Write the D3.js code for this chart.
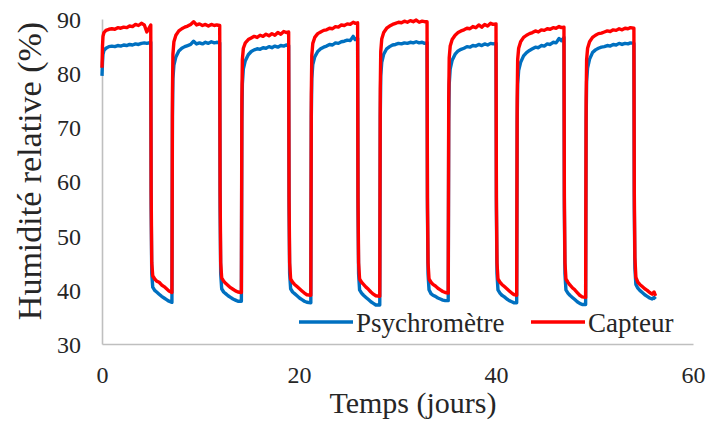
<!DOCTYPE html>
<html><head><meta charset="utf-8">
<script src="https://cdn.jsdelivr.net/npm/d3@7"></script>
<style>body{margin:0;background:#fff}svg{display:block}
text,.tick text{font-family:"Liberation Serif","Times New Roman",serif !important;fill:#262626}</style>
</head><body><svg id="c" width="708" height="423"></svg>
<script>
// Temps (jours)
const jours = [
 0,0.05,0.1,0.2,0.4,0.7,1.0,1.3,1.6,1.9,2.2,2.5,2.8,3.1,3.4,3.7,4.0,4.3,4.55,4.95,
 4.99,5.05,5.15,5.35,5.55,5.8,6.05,6.3,6.55,6.8,
 7.1,7.15,7.2,7.3,7.5,7.8,8.1,8.4,8.7,9.0,9.3,9.6,9.9,10.2,10.5,10.8,11.1,11.4,11.65,11.95,
 11.99,12.05,12.15,12.35,12.55,12.8,13.05,13.3,13.55,13.8,
 14.15,14.2,14.25,14.35,14.55,14.85,15.15,15.45,15.75,16.05,16.35,16.65,16.95,17.25,17.55,17.85,18.15,18.45,18.7,18.95,
 18.99,19.05,19.15,19.35,19.55,19.8,20.05,20.3,20.55,20.8,
 21.2,21.25,21.3,21.4,21.6,21.9,22.2,22.5,22.8,23.1,23.4,23.7,24.0,24.3,24.6,24.9,25.2,25.5,25.7,25.95,
 25.99,26.05,26.15,26.35,26.55,26.8,27.05,27.3,27.55,27.8,
 28.2,28.25,28.3,28.4,28.6,28.9,29.2,29.5,29.8,30.1,30.4,30.7,31.0,31.3,31.6,31.9,32.2,32.5,32.75,33.0,
 33.04,33.1,33.2,33.4,33.6,33.85,34.1,34.35,34.6,34.85,
 35.15,35.2,35.25,35.35,35.55,35.85,36.15,36.45,36.75,37.05,37.35,37.65,37.95,38.25,38.55,38.85,39.15,39.45,39.7,40.0,
 40.04,40.1,40.2,40.4,40.6,40.85,41.1,41.35,41.6,41.85,
 42.1,42.15,42.2,42.3,42.5,42.8,43.1,43.4,43.7,44.0,44.3,44.6,44.9,45.2,45.5,45.8,46.1,46.4,46.65,46.9,
 46.94,47.0,47.1,47.3,47.5,47.75,48.0,48.25,48.5,48.75,
 49.1,49.15,49.2,49.3,49.5,49.8,50.1,50.4,50.7,51.0,51.3,51.6,51.9,52.2,52.5,52.8,53.1,53.4,53.65,54.0,
 54.04,54.1,54.2,54.4,54.6,54.85,55.1,55.35,55.6,55.85,56.05,56.2
];
// Humidité relative (%) - Psychromètre
const psychrometre = [
 79.5,82.0,83.5,84.2,84.6,84.9,85.0,84.9,85.1,85.0,85.2,85.1,85.3,85.2,85.4,85.3,85.5,85.6,85.5,85.7,
 55,43,40.5,39.9,39.6,39.2,38.8,38.5,38.2,37.9,
 37.7,72,79,81.5,83.0,84.1,84.6,84.9,85.1,85.3,85.9,85.4,85.6,85.4,85.7,85.5,85.8,85.6,85.7,85.6,
 55,43,40.2,39.6,39.3,38.9,38.6,38.3,38.1,37.9,
 37.9,71,78,80.8,82.3,83.4,84.0,84.3,84.5,84.4,84.7,84.6,84.9,84.7,85.0,84.8,85.1,85.0,85.2,85.1,
 55,43,40.2,39.6,39.3,38.9,38.5,38.2,37.9,37.7,
 37.6,72,79,81.6,83.0,84.0,84.5,84.8,85.0,85.3,85.2,85.6,85.5,85.8,85.9,86.1,86.0,86.8,86.2,86.4,
 55,43,40.0,39.4,39.0,38.6,38.2,37.8,37.5,37.2,
 37.2,72,79.5,82.0,83.5,84.5,84.9,85.2,85.3,85.5,85.4,85.6,85.5,85.7,85.6,85.8,85.6,85.7,85.5,85.6,
 55,43,40.0,39.3,39.0,38.8,38.5,38.3,38.1,38.0,
 38.0,71,78,80.8,82.4,83.5,84.1,84.4,84.6,84.9,84.8,85.1,85.0,85.3,85.1,85.4,85.2,85.5,85.4,85.5,
 55,43,40.0,39.4,39.0,38.7,38.3,38.0,37.8,37.6,
 37.6,71,78,80.5,82.0,83.2,83.8,84.2,84.5,84.8,84.7,85.1,85.0,85.4,85.3,85.7,85.6,86.4,86.0,86.6,
 55,43,40.0,39.4,39.0,38.6,38.2,37.8,37.5,37.3,
 37.3,71,78.5,81.0,82.6,83.8,84.3,84.6,84.8,84.9,85.1,85.0,85.3,85.2,85.5,85.3,85.5,85.4,85.6,85.5,
 55,44,41.0,40.3,39.9,39.5,39.1,38.8,38.5,38.3,38.6,38.3
];
// Humidité relative (%) - Capteur
const capteur = [
 81.0,85.0,86.8,87.5,87.9,88.1,88.2,88.1,88.4,88.3,88.5,88.4,88.7,88.6,89.0,88.8,89.2,88.9,87.6,88.9,
 58,45,42.6,42.0,41.6,41.4,40.9,40.6,40.2,39.8,
 39.5,76,83.5,85.8,87.0,87.8,88.2,88.5,88.7,89.0,89.5,88.9,89.1,88.8,89.0,88.7,89.0,88.8,88.9,88.8,
 58,45,42.2,41.6,41.2,40.8,40.4,40.1,39.8,39.6,
 39.5,75,82.5,84.6,85.6,86.2,86.5,86.8,86.6,87.0,86.8,87.2,86.9,87.3,87.0,87.5,87.2,87.7,87.5,87.6,
 57,45,42.0,41.4,41.0,40.6,40.2,39.8,39.4,39.1,
 39.0,76,83.3,85.5,86.6,87.3,87.6,87.9,88.0,88.3,88.2,88.6,88.5,88.9,88.8,89.1,89.0,89.4,89.2,89.3,
 57,45,42.0,41.4,41.0,40.5,40.1,39.6,39.2,38.9,
 38.8,77,84.0,86.3,87.5,88.3,88.7,89.0,89.2,89.4,89.3,89.6,89.4,89.7,89.5,89.8,89.4,89.6,89.5,89.5,
 57,45,42.0,41.4,41.0,40.7,40.3,40.0,39.7,39.5,
 39.4,75,82.8,85.0,86.2,87.0,87.5,87.8,88.0,88.3,88.2,88.6,88.4,88.9,88.5,89.0,88.7,89.2,89.0,89.1,
 57,45,42.0,41.4,41.0,40.6,40.2,39.8,39.4,39.1,
 39.0,75,82.5,84.6,85.8,86.6,87.0,87.3,87.5,87.8,87.6,88.0,87.9,88.2,88.1,88.4,88.3,88.6,88.4,88.5,
 57,45,42.0,41.4,40.9,40.4,40.0,39.5,39.0,38.7,
 38.6,75,82.5,84.6,85.8,86.6,87.0,87.3,87.4,87.6,87.8,87.7,88.0,87.9,88.2,88.0,88.3,88.2,88.4,88.3,
 58,46,42.3,41.4,41.0,40.6,40.2,39.9,39.5,39.2,39.6,38.9
];
const xTicks = [0, 20, 40, 60];
const yTicks = [30, 40, 50, 60, 70, 80, 90];
const seriesNames = ["Psychromètre", "Capteur"];
const seriesColors = ["#0070C0", "#FF0000"];
const xTitle = "Temps (jours)";
const yTitle = "Humidité relative (%)";

const SERIF = '"Liberation Serif", "Times New Roman", serif';
const svg = d3.select("#c");
const x = d3.scaleLinear().domain([0, 60]).range([102, 693]);
const y = d3.scaleLinear().domain([30, 90]).range([344, 19]);

// axes
const xAxis = svg.append("g").attr("transform", `translate(0,${y(30)})`)
  .call(d3.axisBottom(x).tickValues(xTicks).tickSize(0).tickPadding(22).tickFormat(d3.format("d")));
const yAxis = svg.append("g").attr("transform", `translate(${x(0)},0)`)
  .call(d3.axisLeft(y).tickValues(yTicks).tickSize(0).tickPadding(21).tickFormat(d3.format("d")));
[xAxis, yAxis].forEach(g => {
  g.attr("font-family", SERIF).attr("font-size", 24);
  g.select(".domain").attr("stroke", "#BFBFBF").attr("stroke-width", 1.6);
  g.selectAll("text").attr("fill", "#262626").style("font-family", SERIF).style("font-size", "24px");
});
xAxis.selectAll("text").attr("dy", "0.71em");
yAxis.selectAll("text").attr("dy", "0.35em");

const data = jours.map((d, i) => ({ t: d, p: psychrometre[i], c: capteur[i] }));
const line = key => d3.line().x(d => x(d.t)).y(d => y(d[key]));
svg.append("path").datum(data).attr("d", line("p"))
  .attr("fill", "none").attr("stroke", seriesColors[0]).attr("stroke-width", 3.4).attr("stroke-linejoin", "round");
svg.append("path").datum(data).attr("d", line("c"))
  .attr("fill", "none").attr("stroke", seriesColors[1]).attr("stroke-width", 3.4).attr("stroke-linejoin", "round");

// titles
svg.append("text").attr("x", 413).attr("y", 413).attr("text-anchor", "middle")
  .attr("font-family", SERIF).attr("font-size", 30).text(xTitle);
svg.append("text").attr("transform", "translate(41,171) rotate(-90)").attr("text-anchor", "middle")
  .attr("font-family", SERIF).attr("font-size", 34).text(yTitle);

// legend
const legX = [299, 531];
seriesNames.forEach((n, i) => {
  svg.append("line").attr("x1", legX[i]).attr("x2", legX[i] + 54).attr("y1", 322).attr("y2", 322)
    .attr("stroke", seriesColors[i]).attr("stroke-width", 3.4);
  svg.append("text").attr("x", legX[i] + 57).attr("y", 332)
    .attr("font-family", SERIF).attr("font-size", 27).text(n);
});
</script></body></html>
